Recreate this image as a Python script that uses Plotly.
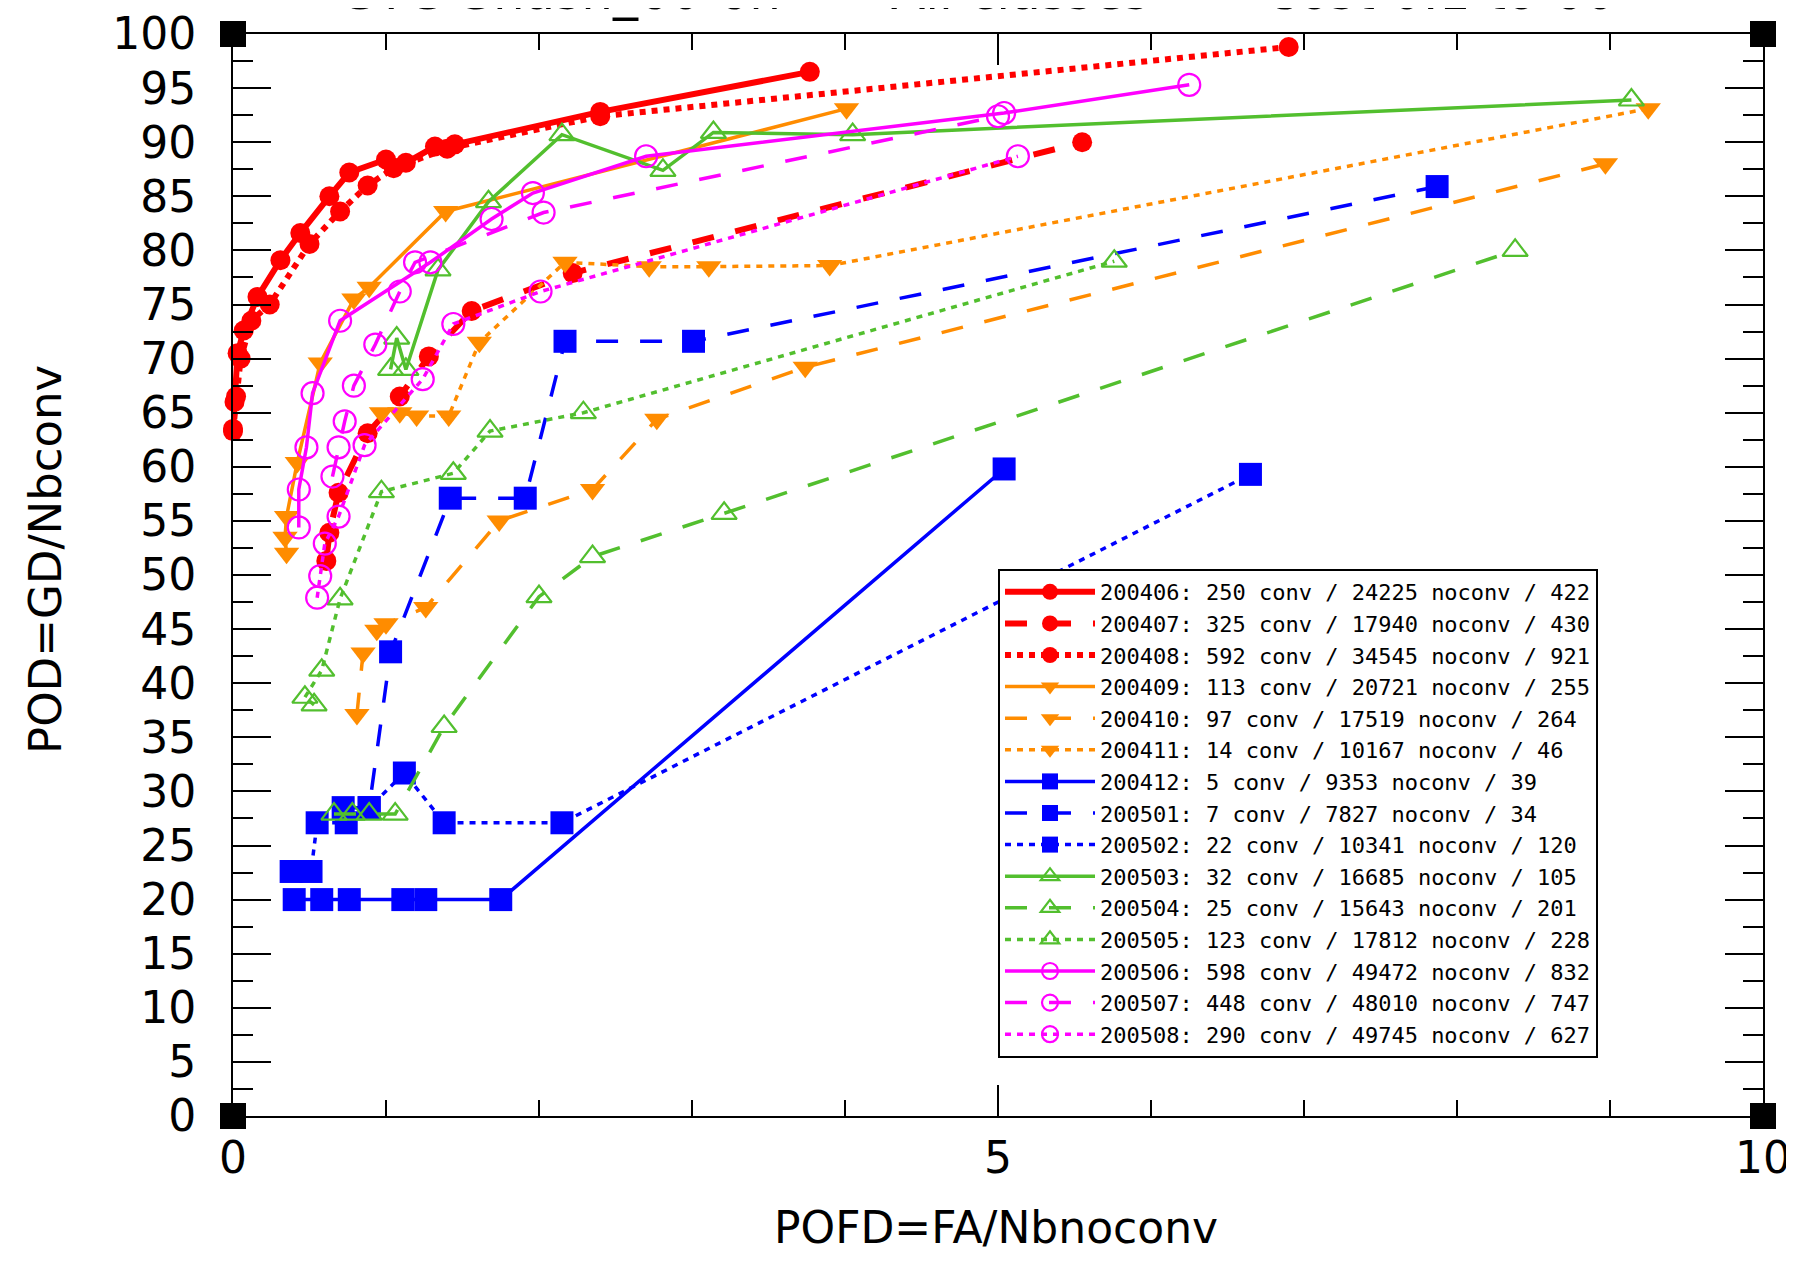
import plotly.graph_objects as go

X_RANGE = [0, 10]
Y_RANGE = [0, 100]
Y_TICKS = list(range(0, 101, 5))
X_TICKS = [0, 5, 10]

# ---- series data (POFD, POD) ----
x_200406 = [0.0, 0.01, 0.03, 0.07, 0.16, 0.31, 0.44, 0.63, 0.76, 1.00, 1.13, 1.32, 1.45, 2.40, 3.77]
y_200406 = [63.5, 66.0, 70.5, 72.6, 75.7, 79.1, 81.6, 85.0, 87.2, 88.4, 88.1, 89.6, 89.8, 92.8, 96.5]

x_200407 = [0.61, 0.63, 0.69, 0.88, 1.09, 1.28, 1.56, 2.22, 5.55]
y_200407 = [51.3, 53.9, 57.6, 63.1, 66.5, 70.2, 74.4, 77.9, 90.0]

x_200408 = [0.0, 0.02, 0.05, 0.12, 0.24, 0.50, 0.70, 0.88, 1.05, 1.40, 2.40, 6.90]
y_200408 = [63.3, 66.5, 70.0, 73.5, 75.0, 80.6, 83.6, 86.0, 87.6, 89.4, 92.4, 98.8]

x_200409 = [0.35, 0.34, 0.35, 0.42, 0.57, 0.79, 0.89, 1.39, 4.01]
y_200409 = [52.0, 53.5, 55.4, 60.4, 69.6, 75.5, 76.6, 83.6, 93.1]

x_200410 = [0.81, 0.85, 0.94, 1.00, 1.26, 1.74, 2.35, 2.77, 3.74, 8.97]
y_200410 = [37.1, 42.8, 44.9, 45.5, 47.0, 55.0, 57.9, 64.4, 69.2, 88.0]

x_200411 = [0.97, 1.09, 1.20, 1.41, 1.61, 2.17, 2.72, 3.11, 3.90, 9.25]
y_200411 = [65.0, 65.0, 64.7, 64.7, 71.5, 78.9, 78.5, 78.5, 78.6, 93.1]

x_200412 = [0.40, 0.58, 0.76, 1.11, 1.26, 1.75, 5.04]
y_200412 = [20.0, 20.0, 20.0, 20.0, 20.0, 20.0, 59.8]

x_200501 = [0.72, 0.89, 1.03, 1.42, 1.91, 2.17, 3.01, 7.87]
y_200501 = [28.5, 28.5, 42.9, 57.1, 57.1, 71.6, 71.6, 85.9]

x_200502 = [0.38, 0.51, 0.55, 0.74, 0.89, 1.12, 1.38, 2.15, 6.65]
y_200502 = [22.6, 22.6, 27.1, 27.1, 28.5, 31.7, 27.1, 27.1, 59.3]

x_200503 = [1.03, 1.07, 1.13, 1.34, 1.67, 2.15, 2.81, 3.14, 4.05, 9.14]
y_200503 = [69.0, 71.9, 69.0, 78.2, 84.5, 90.7, 87.4, 90.9, 90.7, 93.9]

x_200504 = [0.66, 0.78, 0.89, 1.06, 1.38, 2.00, 2.35, 3.21, 8.38]
y_200504 = [27.9, 27.9, 27.9, 27.9, 36.0, 48.0, 51.7, 55.7, 80.0]

x_200505 = [0.53, 0.47, 0.58, 0.70, 0.97, 1.44, 1.68, 2.29, 5.76]
y_200505 = [38.0, 38.7, 41.2, 47.8, 57.7, 59.4, 63.3, 65.0, 79.0]

x_200506 = [0.43, 0.43, 0.48, 0.52, 0.70, 1.29, 1.69, 1.96, 2.70, 5.04, 6.25]
y_200506 = [54.4, 57.9, 61.8, 66.8, 73.5, 78.9, 82.9, 85.3, 88.7, 92.7, 95.3]

x_200507 = [0.65, 0.69, 0.73, 0.79, 0.93, 1.09, 1.19, 2.03, 5.00]
y_200507 = [59.1, 61.8, 64.2, 67.5, 71.3, 76.2, 78.9, 83.5, 92.4]

x_200508 = [0.55, 0.57, 0.60, 0.69, 0.86, 1.24, 1.44, 2.01, 5.13]
y_200508 = [47.9, 49.9, 52.9, 55.4, 62.0, 68.1, 73.2, 76.2, 88.7]

legend_labels = [
    "200406: 250 conv / 24225 noconv / 422",
    "200407: 325 conv / 17940 noconv / 430",
    "200408: 592 conv / 34545 noconv / 921",
    "200409: 113 conv / 20721 noconv / 255",
    "200410: 97 conv / 17519 noconv / 264",
    "200411: 14 conv / 10167 noconv / 46",
    "200412: 5 conv / 9353 noconv / 39",
    "200501: 7 conv / 7827 noconv / 34",
    "200502: 22 conv / 10341 noconv / 120",
    "200503: 32 conv / 16685 noconv / 105",
    "200504: 25 conv / 15643 noconv / 201",
    "200505: 123 conv / 17812 noconv / 228",
    "200506: 598 conv / 49472 noconv / 832",
    "200507: 448 conv / 48010 noconv / 747",
    "200508: 290 conv / 49745 noconv / 627",
]

RED, ORANGE, BLUE, GREEN, MAGENTA = "#ff0000", "#ff8c00", "#0000ff", "#52bf2e", "#ff00ff"
SOLID, DASH, DOT = "solid", "22px,22px", "6px,6px"

series = [
    (x_200406, y_200406, RED, SOLID, "circle", 6),
    (x_200407, y_200407, RED, DASH, "circle", 6),
    (x_200408, y_200408, RED, DOT, "circle", 6),
    (x_200409, y_200409, ORANGE, SOLID, "triangle-down", 3.5),
    (x_200410, y_200410, ORANGE, DASH, "triangle-down", 3.5),
    (x_200411, y_200411, ORANGE, DOT, "triangle-down", 3.5),
    (x_200412, y_200412, BLUE, SOLID, "square", 3.5),
    (x_200501, y_200501, BLUE, DASH, "square", 3.5),
    (x_200502, y_200502, BLUE, DOT, "square", 3.5),
    (x_200503, y_200503, GREEN, SOLID, "triangle-up-open", 3.5),
    (x_200504, y_200504, GREEN, DASH, "triangle-up-open", 3.5),
    (x_200505, y_200505, GREEN, DOT, "triangle-up-open", 3.5),
    (x_200506, y_200506, MAGENTA, SOLID, "circle-open", 3.5),
    (x_200507, y_200507, MAGENTA, DASH, "circle-open", 3.5),
    (x_200508, y_200508, MAGENTA, DOT, "circle-open", 3.5),
]

msize = {"circle": 20, "triangle-down": 22, "square": 23,
         "triangle-up-open": 22, "circle-open": 22}

fig = go.Figure()
for (xs, ys, col, dash, sym, lw), lab in zip(series, legend_labels):
    fig.add_trace(go.Scatter(
        x=xs, y=ys, mode="lines+markers", name=lab, cliponaxis=False,
        line=dict(color=col, width=lw, dash=dash),
        marker=dict(symbol=sym, size=msize[sym], color=col,
                    line=dict(color=col, width=2.2 if "open" in sym else 0)),
    ))

# corner markers of the frame
corner_x = [X_RANGE[0], X_RANGE[1], X_RANGE[0], X_RANGE[1]]
corner_y = [Y_RANGE[0], Y_RANGE[0], Y_RANGE[1], Y_RANGE[1]]
fig.add_trace(go.Scatter(x=corner_x, y=corner_y, mode="markers", showlegend=False,
                         cliponaxis=False, hoverinfo="skip",
                         marker=dict(symbol="square", size=26, color="black")))

FONT = "DejaVu Sans"
axis_common = dict(showline=True, linecolor="black", linewidth=2, mirror="allticks",
                   ticks="inside", tickcolor="black", tickwidth=2, showgrid=False,
                   zeroline=False, automargin=False,
                   tickfont=dict(family=FONT, size=44, color="black"))

fig.update_xaxes(range=X_RANGE, tickvals=X_TICKS, ticklen=31, ticklabelstandoff=2,
                 minor=dict(dtick=1, ticks="inside", ticklen=16, tickcolor="black",
                            tickwidth=2, showgrid=False),
                 **axis_common)
fig.update_yaxes(range=Y_RANGE, tickvals=Y_TICKS, ticklen=38, ticklabelstandoff=26,
                 minor=dict(dtick=2.5, ticks="inside", ticklen=20, tickcolor="black",
                            tickwidth=2, showgrid=False),
                 **axis_common)

# page offset (browser body margin) taken into account
OFF = 8
W, H = 1784, 1247
ML = 233 - OFF
MT = 34 - OFF
MR = W - (1763 - OFF)
MB = H - (1116 - OFF)
pw, ph = W - ML - MR, H - MT - MB

def px_x(p):  # page pixel -> paper x
    return (p - OFF - ML) / pw

def px_y(p):  # page pixel -> paper y
    return (H - MB - (p - OFF)) / ph

annots = [
    dict(text="POFD=FA/Nbnoconv", x=px_x(996), y=px_y(1227), xanchor="center", yanchor="middle",
         font=dict(family=FONT, size=44, color="black")),
    dict(text="POD=GD/Nbconv", x=px_x(45), y=px_y(560), xanchor="center", yanchor="middle",
         textangle=-90, font=dict(family=FONT, size=45, color="black")),
    dict(text="GTG Shash_60 6h", x=px_x(560), y=px_y(23), xanchor="center", yanchor="bottom",
         font=dict(family=FONT, size=50, color="black")),
    dict(text="All classes", x=px_x(1021), y=px_y(23), xanchor="center", yanchor="bottom",
         font=dict(family=FONT, size=50, color="black")),
    dict(text="Cost 0.1 to 60", x=px_x(1440), y=px_y(23), xanchor="center", yanchor="bottom",
         font=dict(family=FONT, size=50, color="black")),
]
for a in annots:
    fig.add_annotation(xref="paper", yref="paper", showarrow=False, **a)

fig.update_layout(
    width=W, height=H,
    margin=dict(l=ML, r=MR, t=MT, b=MB, pad=0, autoexpand=False),
    paper_bgcolor="white", plot_bgcolor="white",
    legend=dict(x=px_x(998), y=px_y(569), xanchor="left", yanchor="top",
                bgcolor="white", bordercolor="black", borderwidth=2,
                font=dict(family="DejaVu Sans Mono", size=22, color="black"),
                itemwidth=90, tracegroupgap=0),
)

fig.write_html("out.html")
